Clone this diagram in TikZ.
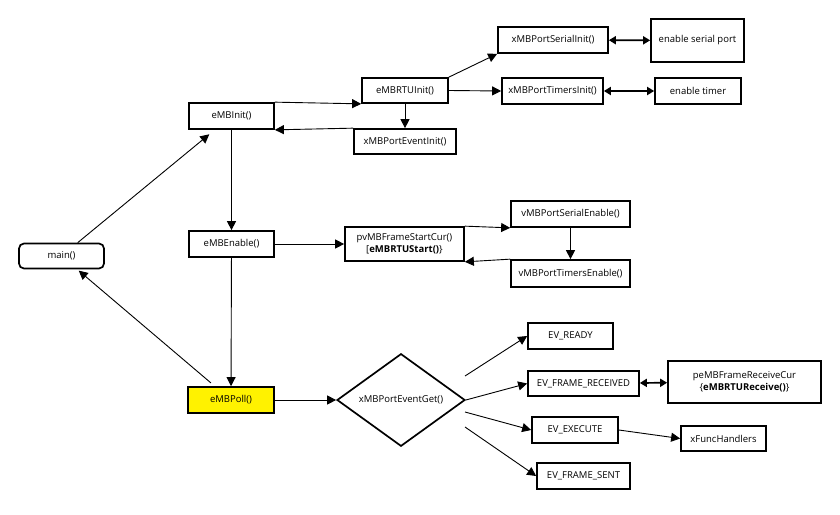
\documentclass[tikz,border=0pt]{standalone}
\usepackage{fontspec}
\setmainfont{Open Sans}
\usetikzlibrary{shapes.geometric,arrows.meta}

\begin{document}
\begin{tikzpicture}[x=1pt,y=-1pt,
	box/.style={draw,line width=1.7pt,fill=white,inner sep=2pt,minimum height=26pt,
		font=\fontsize{9.5}{12}\selectfont,align=center},
	call/.style={line width=0.9pt,-{Triangle[length=9pt,width=9pt]}},
	link/.style={line width=1.7pt,{Triangle[length=7pt,width=8pt]}-{Triangle[length=7pt,width=8pt]}}]
\useasboundingbox[fill=white] (0,0) rectangle (840,514);

% init branch
\node[box,rounded corners=5pt,minimum width=85pt,minimum height=25pt] (main) at (61.5,256) {main()};
\node[box,minimum width=85pt] (init) at (231.5,116) {eMBInit()};
\node[box,minimum width=86pt,minimum height=25pt] (rtuinit) at (405,90.5) {eMBRTUInit()};
\node[box,minimum width=102pt,minimum height=25pt] (evinit) at (405,141.5) {xMBPortEventInit()};
\node[box,minimum width=110pt] (serialinit) at (553,40) {xMBPortSerialInit()};
\node[box,minimum width=93pt,minimum height=43pt] (serport) at (697.5,40.5) {enable serial port};
\node[box,minimum width=101pt] (timersinit) at (552.5,91) {xMBPortTimersInit()};
\node[box,minimum width=86pt] (timer) at (698,91) {enable timer};

% enable branch
\node[box,minimum width=85pt] (enable) at (231.5,244) {eMBEnable()};
\node[box,minimum width=119pt,minimum height=34pt] (startcur) at (404.5,244)
	{pvMBFrameStartCur()\\{}[\textbf{eMBRTUStart()}\}};
\node[box,minimum width=119pt] (serialen) at (570.5,214) {vMBPortSerialEnable()};
\node[box,minimum width=119pt,minimum height=27pt] (timersen) at (570.5,273.5) {vMBPortTimersEnable()};

% poll branch
\node[box,fill=yellow,minimum width=86pt] (poll) at (231,400) {eMBPoll()};
\node[box,diamond,minimum width=128pt,minimum height=76pt,inner sep=0pt] (evget) at (401,400) {xMBPortEventGet()};
\node[box,minimum width=85pt] (ready) at (570.5,336) {EV\_READY};
\node[box,minimum width=111pt,minimum height=25pt] (frrecv) at (583.5,383.5) {EV\_FRAME\_RECEIVED};
\node[box,minimum width=153pt,minimum height=42pt] (recvcur) at (744.5,382)
	{peMBFrameReceiveCur\\\{\textbf{eMBRTUReceive()}\}};
\node[box,minimum width=86pt] (exec) at (575,430) {EV\_EXECUTE};
\node[box,minimum width=85pt,minimum height=25pt] (xfunc) at (723.5,438.5) {xFuncHandlers};
\node[box,minimum width=93pt] (sent) at (583.5,476) {EV\_FRAME\_SENT};

\coordinate (r1) at (465,376);
\coordinate (r3) at (465,412);
\coordinate (r4) at (465,427);

\draw[call,shorten >=7pt] (main) -- (init);
\draw[call,shorten <=5pt,shorten >=2pt] (poll) -- (main);
\draw[call] (init.north east) -- (rtuinit.south west);
\draw[call] (evinit.north west) -- (init.south east);
\draw[call] (rtuinit) -- (evinit);
\draw[call] (rtuinit.north east) -- (serialinit.south west);
\draw[call] (rtuinit.east) -- (timersinit.west);
\draw[link] (serialinit) -- (serport);
\draw[link] (timersinit) -- (timer);

\draw[call] (init) -- (enable);
\draw[call] (enable) -- (poll);
\draw[call] (enable) -- (startcur);
\draw[call] (startcur.north east) -- (serialen.south west);
\draw[call] (serialen) -- (timersen);
\draw[call] (timersen.north west) -- (startcur.south east);

\draw[call] (poll) -- (evget);
\draw[call] (r1) -- (ready.west);
\draw[call] (evget.east) -- (frrecv.west);
\draw[call] (r3) -- (exec.west);
\draw[call] (r4) -- (sent.west);
\draw[link] (frrecv) -- (recvcur);
\draw[call] (exec.east) -- (xfunc.west);
\end{tikzpicture}
\end{document}
